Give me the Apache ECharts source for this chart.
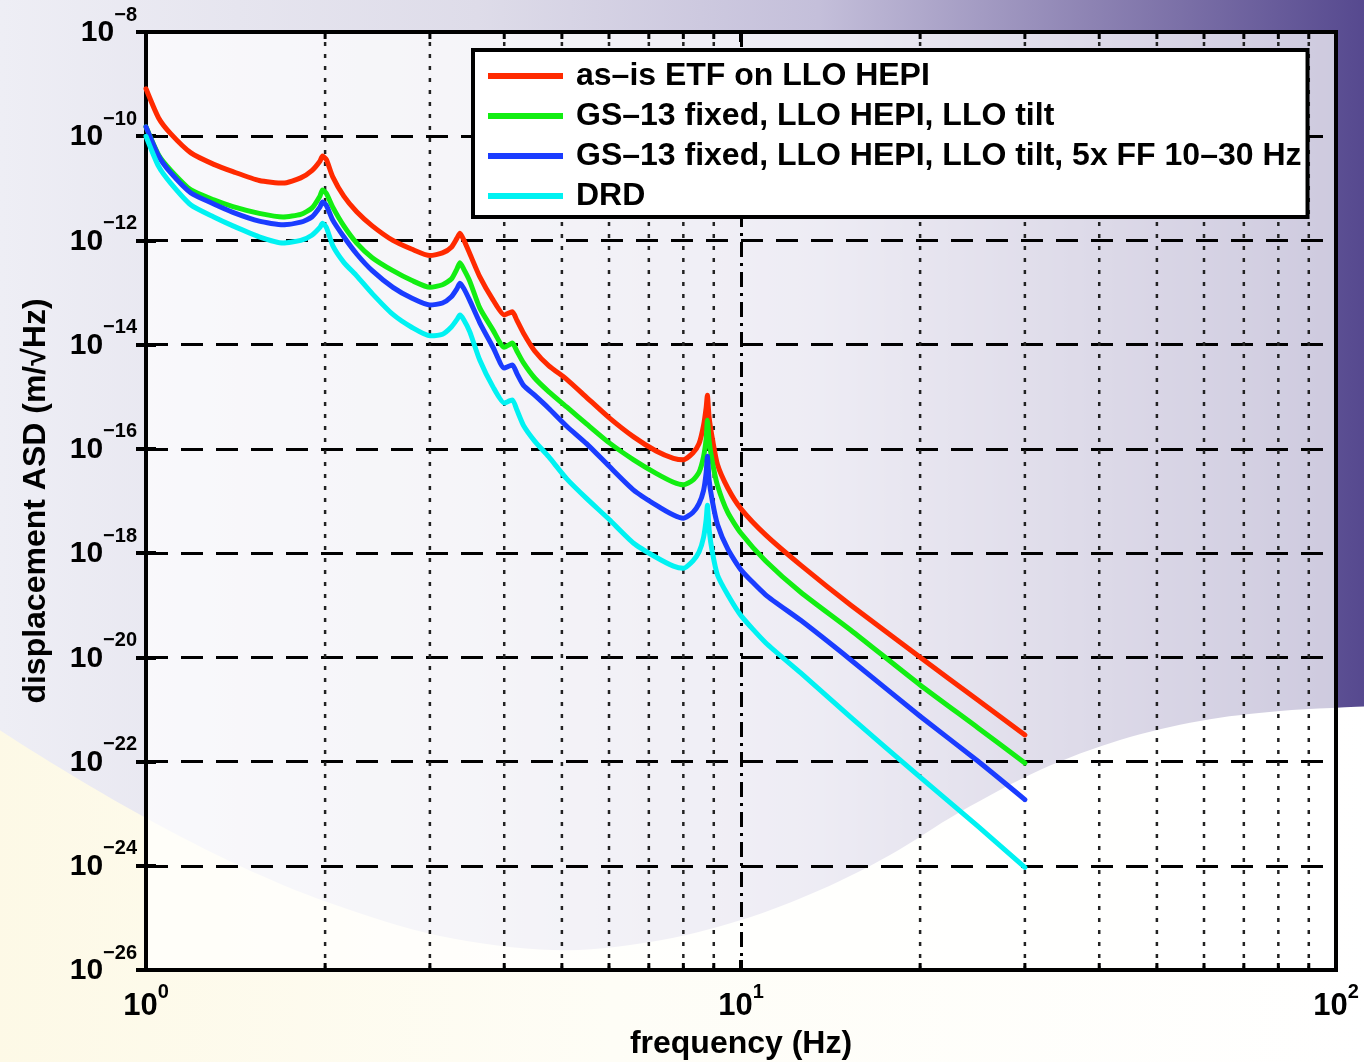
<!DOCTYPE html>
<html><head><meta charset="utf-8">
<script src="https://cdn.jsdelivr.net/npm/echarts@6/dist/echarts.min.js"></script>
<style>html,body{margin:0;padding:0;background:#fff;}#c{width:1364px;height:1062px;}</style>
</head><body><div id="c"></div>
<script>
// ---- data (frequency in Hz, ASD given as log10 exponent) ----
const freqHz = [1.0,1.05,1.1,1.19,1.3,1.4,1.55,1.7,1.82,1.9,1.96,1.98,2.01,2.06,2.15,2.26,2.4,2.6,2.8,3.0,
  3.15,3.26,3.33,3.37,3.42,3.5,3.64,3.83,4.0,4.08,4.13,4.2,4.31,4.5,4.75,5.1,5.5,6.0,6.6,7.2,
  7.7,8.0,8.3,8.5,8.65,8.74,8.78,8.84,8.95,9.13,9.5,10,11,12.6,15.3,20,25,30];
const asdAsIsExp = [-9.09,-9.65,-9.95,-10.32,-10.54,-10.68,-10.85,-10.90,-10.80,-10.66,-10.48,-10.38,-10.45,-10.78,-11.15,-11.45,-11.72,-12.0,-12.17,-12.29,
  -12.24,-12.13,-11.96,-11.86,-11.99,-12.25,-12.70,-13.14,-13.43,-13.39,-13.37,-13.53,-13.78,-14.12,-14.40,-14.67,-15.01,-15.40,-15.77,-16.04,
  -16.18,-16.21,-16.08,-15.90,-15.55,-15.2,-14.97,-15.4,-15.8,-16.3,-16.75,-17.15,-17.65,-18.23,-19.0,-20.0,-20.82,-21.49];
const asdGs13Exp = [-9.82,-10.36,-10.65,-11.03,-11.22,-11.35,-11.48,-11.55,-11.50,-11.38,-11.15,-11.03,-11.10,-11.36,-11.72,-12.05,-12.33,-12.58,-12.77,-12.90,
  -12.85,-12.74,-12.55,-12.43,-12.55,-12.78,-13.30,-13.72,-14.05,-14.00,-13.97,-14.12,-14.35,-14.64,-14.90,-15.20,-15.52,-15.88,-16.21,-16.47,
  -16.64,-16.69,-16.60,-16.45,-16.15,-15.8,-15.45,-15.85,-16.25,-16.70,-17.22,-17.62,-18.15,-18.75,-19.48,-20.53,-21.35,-22.03];
const asdGs13FFExp = [-9.82,-10.38,-10.70,-11.09,-11.30,-11.46,-11.63,-11.70,-11.65,-11.55,-11.36,-11.26,-11.33,-11.61,-11.93,-12.26,-12.58,-12.90,-13.11,-13.24,
  -13.20,-13.08,-12.93,-12.82,-12.92,-13.15,-13.58,-14.05,-14.45,-14.41,-14.39,-14.55,-14.78,-14.97,-15.22,-15.57,-15.90,-16.33,-16.79,-17.08,
  -17.27,-17.33,-17.22,-17.05,-16.80,-16.45,-16.14,-16.60,-17.00,-17.45,-17.92,-18.32,-18.80,-19.29,-20.05,-21.13,-21.99,-22.73];
const asdDrdExp = [-10.0,-10.58,-10.90,-11.32,-11.55,-11.72,-11.93,-12.05,-12.00,-11.90,-11.75,-11.67,-11.75,-12.10,-12.42,-12.68,-13.02,-13.42,-13.67,-13.83,
  -13.80,-13.66,-13.52,-13.43,-13.52,-13.75,-14.30,-14.81,-15.12,-15.08,-15.06,-15.25,-15.55,-15.85,-16.15,-16.58,-16.95,-17.35,-17.81,-18.08,
  -18.25,-18.29,-18.15,-17.98,-17.70,-17.35,-17.08,-17.55,-17.98,-18.42,-18.80,-19.20,-19.72,-20.30,-21.15,-22.30,-23.24,-24.03];
const seriesNames = ['as\u2013is ETF on LLO HEPI','GS\u201313 fixed, LLO HEPI, LLO tilt','GS\u201313 fixed, LLO HEPI, LLO tilt, 5x FF 10\u201330 Hz','DRD'];
const seriesColors = ['#ff2a00','#12ee12','#1a3cff','#00f2f2'];
const minorGridHz = [2,3,4,5,6,7,8,9,20,30,40,50,60,70,80,90];
const xDecades = [0,2];      // 10^0 .. 10^2 Hz
const yDecades = [-26,-8];   // 10^-26 .. 10^-8
const yTickStep = 2;

const FONT = 'Liberation Sans, Arial, Helvetica, sans-serif';
const chart = echarts.init(document.getElementById('c'), null, {renderer:'canvas'});

// decorative slide background helpers
function catmull(pts, steps){
  const out=[];
  for(let i=0;i<pts.length-1;i++){
    const p0=pts[Math.max(0,i-1)],p1=pts[i],p2=pts[i+1],p3=pts[Math.min(pts.length-1,i+2)];
    for(let s=0;s<steps;s++){
      const t=s/steps,t2=t*t,t3=t2*t;
      out.push([0.5*((2*p1[0])+(-p0[0]+p2[0])*t+(2*p0[0]-5*p1[0]+4*p2[0]-p3[0])*t2+(-p0[0]+3*p1[0]-3*p2[0]+p3[0])*t3),
                0.5*((2*p1[1])+(-p0[1]+p2[1])*t+(2*p0[1]-5*p1[1]+4*p2[1]-p3[1])*t2+(-p0[1]+3*p1[1]-3*p2[1]+p3[1])*t3)]);
    }
  }
  out.push(pts[pts.length-1]);
  return out;
}
const waveTop = catmull([[-10,724],[60,768],[146,818],[240,866],[330,903],[440,936],[553,950],[650,942],[741,920],[820,890],[890,855],[960,812],[1040,770],[1120,740],[1200,721],[1280,711],[1374,706]],8);
const wavePoly = waveTop.concat([[1374,1072],[-10,1072]]);

function sup(v){
  const e = v < 0 ? '\u2212' + Math.abs(v) : String(v);
  return '{b|10}{s|' + e + '}';
}

const lineSeries = [asdAsIsExp, asdGs13Exp, asdGs13FFExp, asdDrdExp].map((arr, k) => ({
  name: seriesNames[k], type: 'line', xAxisIndex: 0, yAxisIndex: 0,
  data: freqHz.map((f, i) => [Math.log10(f), arr[i]]),
  showSymbol: false, symbol: 'none', z: 5,
  smooth: 0.2,
  lineStyle: {color: seriesColors[k], width: 5, join: 'round', cap: 'round'},
  itemStyle: {color: seriesColors[k]}
}));

const richX = {
  b:{fontFamily:FONT, fontWeight:'bold', fontSize:31, color:'#000', verticalAlign:'bottom', lineHeight:40},
  s:{fontFamily:FONT, fontWeight:'bold', fontSize:20, color:'#000', verticalAlign:'top', lineHeight:20}
};
const richY = {
  b:{fontFamily:FONT, fontWeight:'bold', fontSize:30, color:'#000', verticalAlign:'bottom', lineHeight:43},
  s:{fontFamily:FONT, fontWeight:'bold', fontSize:20, color:'#000', verticalAlign:'top', lineHeight:20}
};

const option = {
  animation: false,
  backgroundColor: 'transparent',
  graphic: {elements: [
    {type:'rect', silent:true, z:-100, shape:{x:0,y:0,width:1364,height:1062},
     style:{fill:new echarts.graphic.LinearGradient(0,0,1,0,[
       {offset:0,color:'#eeeef5'},{offset:0.35,color:'#dedce9'},{offset:0.6,color:'#c4bfda'},
       {offset:0.8,color:'#8d83b3'},{offset:1,color:'#56498f'}])}},
    {type:'polygon', silent:true, z:-99, shape:{points:wavePoly},
     style:{fill:new echarts.graphic.LinearGradient(0,0,1,0,[
       {offset:0,color:'#fdf9e6'},{offset:0.45,color:'#fefdf6'},{offset:1,color:'#ffffff'}])}}
  ]},
  grid: {left:146, right:28, top:32, bottom:92, show:true, containLabel:false, outerBoundsMode:'none',
         backgroundColor:'rgba(255,255,255,0.7)', borderColor:'#000', borderWidth:4},
  legend: {
    data: seriesNames, orient:'vertical', left:473, top:50,
    backgroundColor:'#fff', borderColor:'#000', borderWidth:4,
    padding:[10,6,5,15], itemGap:8, itemWidth:75, itemHeight:6, icon:'rect',
    textStyle:{fontFamily:FONT, fontWeight:'bold', fontSize:32, color:'#000', padding:[0,0,0,8]},
    selectedMode:false
  },
  xAxis: [
    {type:'value', position:'bottom', min:xDecades[0], max:xDecades[1], interval:1,
     axisLine:{show:false},
     axisTick:{show:true, inside:true, length:10, lineStyle:{color:'#000', width:4}},
     splitLine:{show:true, lineStyle:{color:'#000', width:3, type:[15,6,3,6]}},
     axisLabel:{margin:12, fontFamily:FONT, fontWeight:'bold', fontSize:31, color:'#000',
       formatter:v=>sup(v), rich:richX},
     name:'frequency (Hz)', nameLocation:'middle', nameGap:58,
     nameTextStyle:{fontFamily:FONT, fontWeight:'bold', fontSize:32, color:'#000'}},
    {type:'value', position:'top', min:xDecades[0], max:xDecades[1], interval:1,
     axisLine:{show:false}, axisLabel:{show:false}, splitLine:{show:false},
     axisTick:{show:true, inside:true, length:10, lineStyle:{color:'#000', width:4}}}
  ],
  yAxis: [
    {type:'value', position:'left', min:yDecades[0], max:yDecades[1], interval:yTickStep,
     axisLine:{show:false},
     axisTick:{show:true, inside:true, length:10, lineStyle:{color:'#000', width:4}},
     splitLine:{show:true, lineStyle:{color:'#000', width:3, type:[22,13]}},
     axisLabel:{margin:9, fontFamily:FONT, fontWeight:'bold', fontSize:30, color:'#000', padding:[0,0,11,0],
       formatter:v=>sup(v), rich:richY},
     name:'displacement ASD (m/\u221AHz)', nameLocation:'middle', nameGap:94,
     nameTextStyle:{fontFamily:FONT, fontWeight:'bold', fontSize:32, color:'#000'}},
    {type:'value', position:'right', min:yDecades[0], max:yDecades[1], interval:yTickStep,
     axisLine:{show:false}, axisLabel:{show:false}, splitLine:{show:false},
     axisTick:{show:true, inside:true, length:10, lineStyle:{color:'#000', width:4}}}
  ],
  series: [
    {type:'custom', name:'minor grid', xAxisIndex:0, yAxisIndex:0, z:1, silent:true,
     data: minorGridHz.map(f => [Math.log10(f), yDecades[0]]),
     renderItem: function(params, api){
       const x = api.value(0);
       const pb = api.coord([x, yDecades[0]]);
       const pt = api.coord([x, yDecades[1]]);
       return {type:'group', children:[
         {type:'line', shape:{x1:pb[0],y1:pb[1],x2:pt[0],y2:pt[1]}, style:{stroke:'#222', lineWidth:2.5, lineDash:[4,8]}},
         {type:'line', shape:{x1:pb[0],y1:pb[1],x2:pb[0],y2:pb[1]-7}, style:{stroke:'#000', lineWidth:3}},
         {type:'line', shape:{x1:pt[0],y1:pt[1],x2:pt[0],y2:pt[1]+7}, style:{stroke:'#000', lineWidth:3}}
       ]};
     }}
  ].concat(lineSeries)
};
chart.setOption(option);
</script>
</body></html>
